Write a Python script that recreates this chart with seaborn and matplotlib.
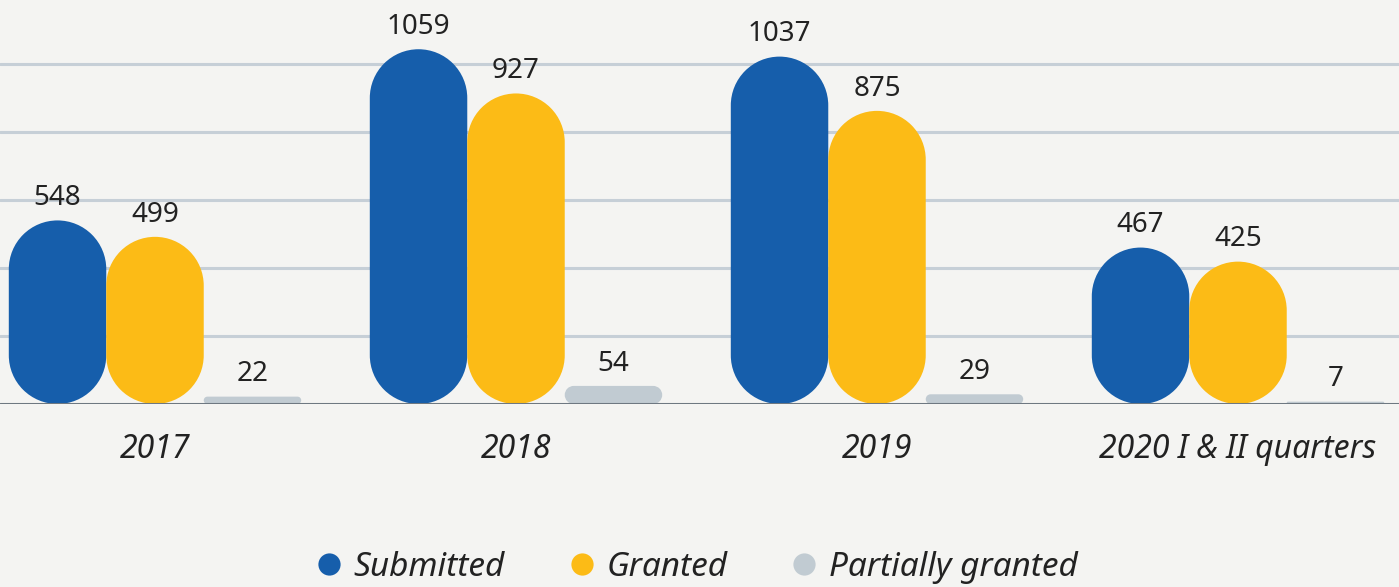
import matplotlib
matplotlib.use('Agg')
import matplotlib.pyplot as plt
from matplotlib.patches import PathPatch
from matplotlib.path import Path
from matplotlib.lines import Line2D
import numpy as np
import pandas as pd
import seaborn as sns

years = ['2017', '2018', '2019', '2020 I & II quarters']
submitted = [548, 1059, 1037, 467]
granted = [499, 927, 875, 425]
partially = [22, 54, 29, 7]
series = ['Submitted', 'Granted', 'Partially granted']
colors = ['#165EAB', '#FCBB16', '#C1CBD2']

df = pd.DataFrame({
    'year': years * 3,
    'value': submitted + granted + partially,
    'type': [s for s in series for _ in years],
})

sns.set_theme(style='white')
plt.rcParams['font.family'] = ['Noto Sans', 'DejaVu Sans']

W, H = 1399, 587
fig = plt.figure(figsize=(W / 100, H / 100), dpi=100)
bg = '#F4F4F2'
fig.patch.set_facecolor(bg)

base_px = 404
ax = fig.add_axes([0, (H - base_px) / H, 1, base_px / H])
ax.set_facecolor(bg)

px_x = 361.0          # pixels per category step
px_y = 0.335          # pixels per value unit


def pill(x, y, w, h):
    # rounded rect with circular corners (radius in pixels = min(w, h)/2)
    r_px = min(w * px_x, h * px_y) / 2
    rx, ry = r_px / px_x, r_px / px_y
    verts, codes = [], []
    corners = [((x + w - rx, y + ry), 270, 360),
               ((x + w - rx, y + h - ry), 0, 90),
               ((x + rx, y + h - ry), 90, 180),
               ((x + rx, y + ry), 180, 270)]
    for (cx, cy), t1, t2 in corners:
        arc = Path.arc(t1, t2)
        v = arc.vertices * [rx, ry] + [cx, cy]
        c = list(arc.codes)
        if verts:
            c[0] = Path.LINETO
        verts.extend(v.tolist())
        codes.extend(c)
    verts.append(verts[0])
    codes.append(Path.CLOSEPOLY)
    return Path(verts, codes)


for gy in np.arange(1, 6) * 68.0 / px_y:
    ax.axhline(gy, color='#C6CFD7', lw=2.2, zorder=0)

sns.barplot(data=df, x='year', y='value', hue='type', hue_order=series,
            palette=colors, width=0.81, ax=ax, legend=False, saturation=1,
            order=years)
ax.set_xlim(-155 / px_x, (W - 155) / px_x)
ax.set_ylim(0, base_px / px_y)

for p in list(ax.patches):
    x, y = p.get_x(), p.get_y()
    w, h = p.get_width(), p.get_height()
    fc = p.get_facecolor()
    p.remove()
    if h <= 0:
        continue
    ax.add_patch(PathPatch(pill(x, y, w, h), facecolor=fc,
                           edgecolor='none', zorder=3))
    ax.annotate(f'{int(round(h))}', (x + w / 2, h), xytext=(0, 6),
                textcoords='offset points', ha='center', va='bottom',
                fontsize=20, color='#222222')

ax.axhline(0, color='#6E7881', lw=2.2, zorder=4)

ax.set_xticks(range(len(years)))
ax.set_xticklabels(years, fontsize=23, style='italic', color='#222222')
ax.tick_params(axis='x', length=0, pad=21)
ax.set_yticks([])
ax.set_xlabel('')
ax.set_ylabel('')
for s in ax.spines.values():
    s.set_visible(False)

handles = [Line2D([], [], marker='o', ls='none', markersize=16,
                  markerfacecolor=c, markeredgecolor='none') for c in colors]
fig.legend(handles, series, loc='center', bbox_to_anchor=(0.498, 1 - 567 / H),
           ncol=3, frameon=False, handlelength=0.8, handletextpad=0.35,
           columnspacing=1.9, prop={'size': 24, 'style': 'italic'},
           labelcolor='#222222')

fig.savefig('out.png', dpi=100, facecolor=bg)
